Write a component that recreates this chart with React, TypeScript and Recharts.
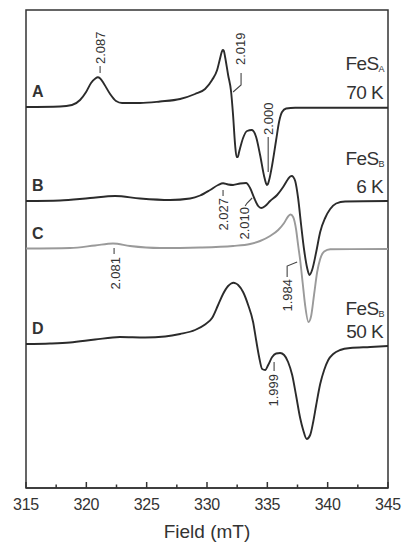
import React from "react"
import { LineChart, Line, XAxis, YAxis, ReferenceDot, ReferenceArea } from "recharts"

// EPR spectra, field in mT, signal in arbitrary units (relative to each trace's baseline)
const fieldA = [315, 317.82, 318.81, 319.48, 319.98, 320.39, 320.75, 320.95, 321.15, 321.47, 321.97, 322.46, 322.96, 324.45, 326.11, 327.77, 329.01, 329.84, 330.42, 330.84, 331.09, 331.22, 331.31, 331.4, 331.5, 331.75, 332.0, 332.16, 332.33, 332.45, 332.55, 332.66, 332.99, 333.32, 333.71, 334.07, 334.4, 334.73, 334.88, 334.96, 335.05, 335.15, 335.4, 335.73, 335.97, 336.22, 336.56, 337.3, 345]
const signalA = [0, 0.5, 2, 7, 15, 24, 28.5, 29.7, 28.5, 23, 13, 6, 4, 4, 5.5, 8, 13, 18, 27, 37, 49, 55, 57, 56, 50, 32, 15, -8, -38, -50, -50, -45, -31, -24, -23, -30, -48, -69, -76, -78, -77, -73, -58, -33, -15, -5, -1.5, -0.7, -0.7]

const fieldB = [315, 317.82, 320.31, 322.38, 324.45, 326.94, 328.6, 329.43, 330.26, 330.92, 331.33, 331.75, 332.16, 332.74, 333.24, 333.57, 333.91, 334.24, 334.49, 334.82, 335.23, 335.81, 336.31, 336.72, 336.9, 337.03, 337.15, 337.31, 337.55, 337.8, 338.05, 338.3, 338.49, 338.71, 339.05, 339.38, 339.79, 340.21, 340.7, 341.45, 345]
const signalB = [0, 0.5, 3, 5, 2.5, 1, 2.5, 5.5, 11, 16, 17.7, 16.5, 16, 17.5, 18, 13, 3, -5, -7, -5, 0, 6, 14, 22, 24.5, 25, 24, 20, 3, -24, -49, -67, -74, -69, -51, -31, -17, -8, -2.5, -0.5, 0]

const fieldC = [315, 318.65, 320.72, 322.21, 323.62, 326.11, 329.43, 332.16, 333.57, 334.4, 335.23, 335.9, 336.39, 336.72, 336.93, 337.14, 337.39, 337.55, 337.72, 337.93, 338.13, 338.41, 338.63, 338.88, 339.13, 339.38, 339.71, 340.21, 345]
const signalC = [0, 0.5, 3, 5, 2.5, 0.5, 1, 2.5, 4.5, 7.5, 12.5, 18.5, 25.5, 32, 34, 31.5, 18.5, 3.5, -11.5, -34.5, -56.5, -73.5, -67.5, -45.5, -23.5, -10.5, -3, -0.7, -0.5]

const fieldD = [315, 316.99, 318.65, 320.72, 322.79, 324.87, 326.53, 327.77, 329.01, 329.84, 330.42, 330.92, 331.33, 331.75, 332.0, 332.19, 332.4, 332.58, 332.99, 333.41, 333.82, 334.07, 334.32, 334.57, 334.82, 335.07, 335.4, 335.73, 336.06, 336.39, 336.72, 337.06, 337.39, 337.72, 337.97, 338.26, 338.55, 338.8, 339.05, 339.38, 339.71, 340.05, 340.46, 341.04, 341.87, 343.53, 345]
const signalD = [0, 0.5, 1.5, 4.5, 7, 6.5, 7.5, 10, 14, 19.5, 26, 39, 50, 58, 60.5, 61.3, 60.5, 59, 52, 39, 22, 4, -13, -25, -26, -21, -13, -9.5, -9, -11, -18, -31, -52, -74, -86, -95, -91, -78, -61, -40, -26, -16, -10, -6, -4, -3, -2]

// vertical stacking offset of each trace
const traceNames = ["A", "B", "C", "D"]
const traceOffsets = [381, 287, 239.5, 144]
const traceColors = ["#2b2b2b", "#2b2b2b", "#9a9a9a", "#2b2b2b"]

const xTicks = [315, 317.5, 320, 322.5, 325, 327.5, 330, 332.5, 335, 337.5, 340, 342.5, 345]

// g-value annotations: anchor field, trace, signal at anchor
const gLabels = ["2.087", "2.019", "2.000", "2.027", "2.010", "2.081", "1.984", "1.999"]
const gFields = [321.14, 332.16, 335.07, 331.33, 333.74, 322.3, 337.47, 335.56]
const gTraces = [0, 0, 0, 1, 1, 2, 2, 3]
const gSignals = [34, 15, -65, 11, 3, 0.5, -13.5, -18]

// leader shapes / text placement (pixels relative to anchor)
const gStyle = [
  { path: [[0, 0], [0, -7]], tx: 0, ty: -9, anchor: "start" },
  { path: [[0, 0], [8, -7], [8, -19]], tx: 7, ty: -27, anchor: "start" },
  { path: [[0, 0], [0, -35]], tx: 0, ty: -37, anchor: "start" },
  { path: [[0, 0], [0, 6]], tx: 0, ty: 8, anchor: "end" },
  { path: [[0, 0], [-5, 5], [-7, 8]], tx: -8, ty: 9, anchor: "end" },
  { path: [[0, 0], [0, 6]], tx: 1, ty: 9, anchor: "end" },
  { path: [[0, 0], [-10, 4], [-10, 15]], tx: -10, ty: 17, anchor: "end" },
  { path: [[0, 0], [0, 9]], tx: -1, ty: 12, anchor: "end" },
]

const sampleTitles = [
  { trace: 0, sub: "A", temp: "70 K", dy1: -37, dy2: -8 },
  { trace: 1, sub: "B", temp: "6 K", dy1: -36, dy2: -8 },
  { trace: 3, sub: "B", temp: "50 K", dy1: -29, dy2: -6 },
]

const FONT = "'Liberation Sans', Arial, sans-serif"

const buildSeries = (fields: number[], signals: number[], offset: number) =>
  fields.map((f, i) => ({ field: f, value: signals[i] + offset }))

const seriesData = [
  buildSeries(fieldA, signalA, traceOffsets[0]),
  buildSeries(fieldB, signalB, traceOffsets[1]),
  buildSeries(fieldC, signalC, traceOffsets[2]),
  buildSeries(fieldD, signalD, traceOffsets[3]),
]

const FieldTick = (props: any) => {
  const { x, y, payload } = props
  const major = payload.value % 5 === 0
  return (
    <g>
      <line x1={x} y1={y} x2={x} y2={y - (major ? 6 : 3.5)} stroke="#333" strokeWidth={1.5} />
      {major && (
        <text x={x} y={y + 22} textAnchor="middle" fontSize={16} fill="#333" fontFamily={FONT} letterSpacing={-0.3}>
          {payload.value}
        </text>
      )}
    </g>
  )
}

export default function App() {
  return (
    <div style={{ position: "absolute", left: 0, top: 0, background: "#fff" }}>
      <LineChart width={403} height={544} margin={{ top: 10, right: 15, bottom: 0, left: 26 }}>
        <XAxis
          dataKey="field"
          type="number"
          domain={[315, 345]}
          ticks={xTicks}
          interval={0}
          height={56}
          tickLine={false}
          tickSize={0}
          tickMargin={0}
          tick={<FieldTick />}
          axisLine={{ stroke: "#333", strokeWidth: 1.5 }}
          allowDataOverflow
          label={{ value: "Field (mT)", position: "insideBottom", offset: 6, fontSize: 19, fill: "#333", fontFamily: FONT }}
        />
        <YAxis type="number" domain={[0, 478]} hide allowDataOverflow />
        <ReferenceArea x1={315} x2={345} y1={0} y2={478} fill="none" stroke="#333" strokeWidth={1.5} ifOverflow="visible" />
        {seriesData.map((d, i) => (
          <Line
            key={traceNames[i]}
            data={d}
            dataKey="value"
            type="monotone"
            stroke={traceColors[i]}
            strokeWidth={1.9}
            dot={false}
            isAnimationActive={false}
          />
        ))}
        {traceNames.map((name, i) => (
          <ReferenceDot
            key={"n" + name}
            x={315}
            y={traceOffsets[i]}
            ifOverflow="visible"
            shape={(p: any) => (
              <text x={p.cx + 6} y={p.cy - 10} fontSize={16} fontWeight="bold" fill="#333" fontFamily={FONT}>
                {name}
              </text>
            )}
          />
        ))}
        {sampleTitles.map((t, i) => (
          <ReferenceDot
            key={"t" + i}
            x={345}
            y={traceOffsets[t.trace]}
            ifOverflow="visible"
            shape={(p: any) => (
              <g fontFamily={FONT} fill="#333">
                <text x={p.cx - 4} y={p.cy + t.dy1} textAnchor="end" fontSize={19} letterSpacing={-0.6}>
                  FeS
                  <tspan fontSize={9} dy={2}>{t.sub}</tspan>
                </text>
                <text x={p.cx - 5} y={p.cy + t.dy2} textAnchor="end" fontSize={19} letterSpacing={-0.6}>
                  {t.temp}
                </text>
              </g>
            )}
          />
        ))}
        {gLabels.map((g, i) => {
          const s = gStyle[i]
          return (
            <ReferenceDot
              key={"g" + i}
              x={gFields[i]}
              y={gSignals[i] + traceOffsets[gTraces[i]]}
              ifOverflow="visible"
              shape={(p: any) => {
                const pts = s.path.map(([dx, dy]) => `${p.cx + dx},${p.cy + dy}`).join(" ")
                const tx = p.cx + s.tx
                const ty = p.cy + s.ty
                return (
                  <g>
                    <polyline points={pts} fill="none" stroke="#444" strokeWidth={1.1} />
                    <text
                      x={tx}
                      y={ty}
                      transform={`rotate(-90, ${tx}, ${ty})`}
                      textAnchor={s.anchor}
                      dominantBaseline="central"
                      fontSize={13}
                      fill="#333"
                      fontFamily={FONT}
                    >
                      {g}
                    </text>
                  </g>
                )
              }}
            />
          )
        })}
      </LineChart>
    </div>
  )
}
